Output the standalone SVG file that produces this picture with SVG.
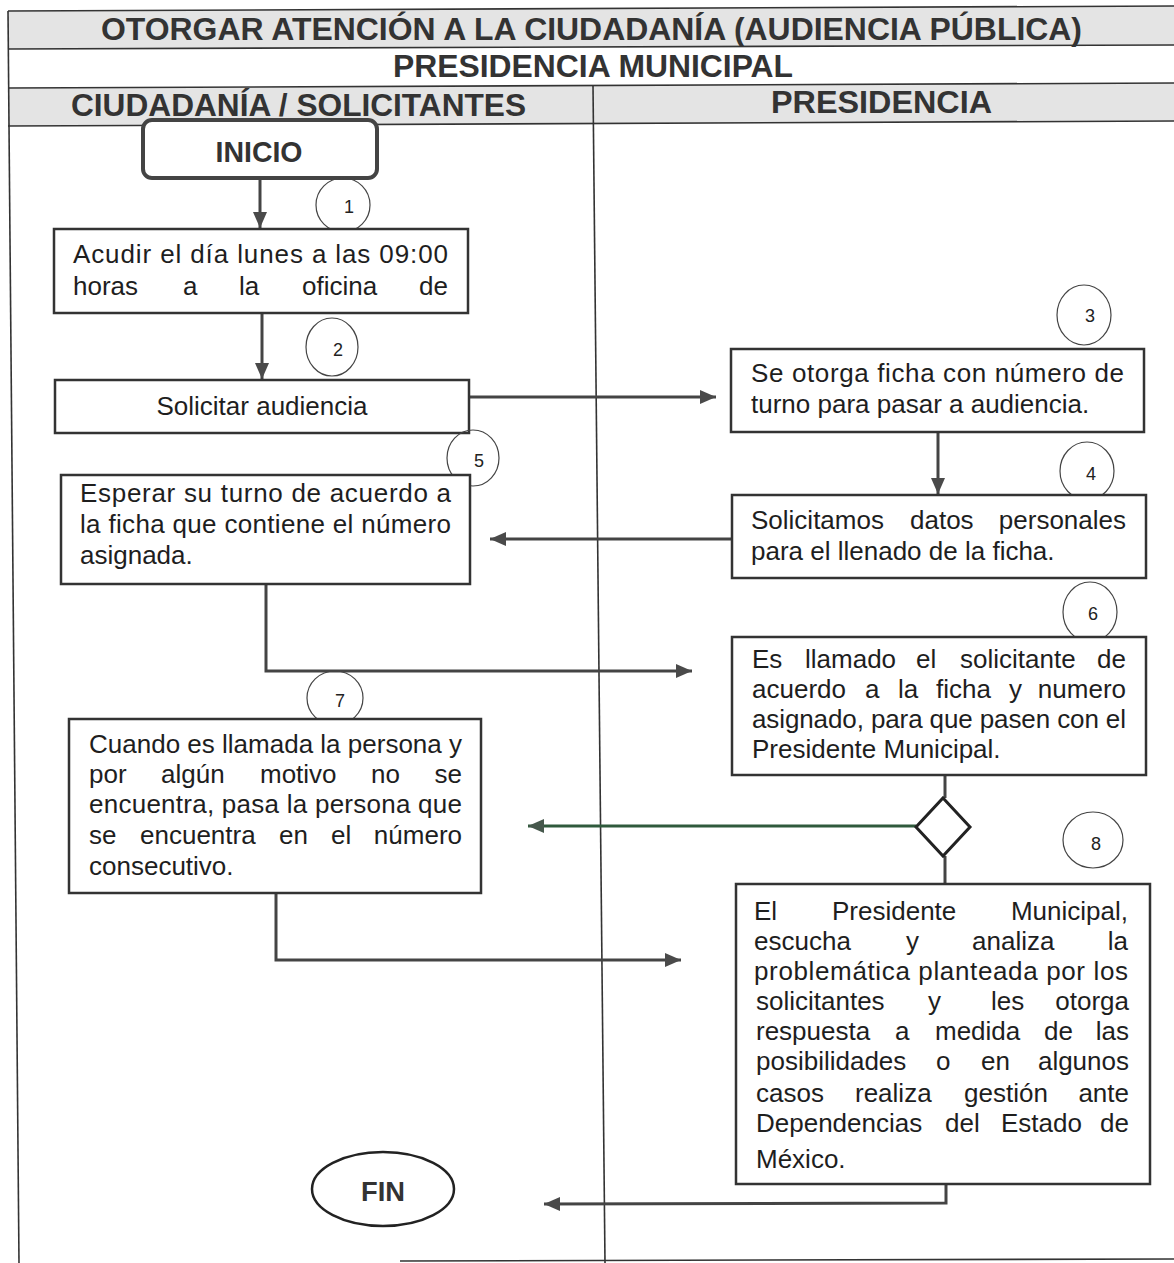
<svg xmlns="http://www.w3.org/2000/svg" width="1174" height="1263" viewBox="0 0 1174 1263">
<style>
.hdr{font-family:"Liberation Sans",Arial,sans-serif;font-weight:bold;fill:#333}
.t{font-family:"Liberation Sans",Arial,sans-serif;font-size:26px;fill:#1e1e1e}
.n{font-family:"Liberation Sans",Arial,sans-serif;font-size:18px;fill:#222;text-anchor:middle}
.box{fill:#fff;stroke:#333;stroke-width:2.5}
.num{fill:none;stroke:#444;stroke-width:1.2}
.grid{stroke:#333;stroke-width:1.6;fill:none}
.con{fill:none;stroke:#444;stroke-width:3}
.e{text-anchor:end}
</style>
<defs>
<marker id="ah" markerUnits="userSpaceOnUse" markerWidth="18" markerHeight="16" refX="16" refY="7" orient="auto">
<path d="M0,0 L16,7 L0,14 z" fill="#4a4a4a"/>
</marker>
<marker id="ahg" markerUnits="userSpaceOnUse" markerWidth="18" markerHeight="16" refX="16" refY="7" orient="auto">
<path d="M0,0 L16,7 L0,14 z" fill="#46584c"/>
</marker>
</defs>
<rect width="1174" height="1263" fill="#fff"/>
<g id="table">
<polygon points="8,11 1174,6 1174,45 8,49" fill="#e4e4e4"/>
<polygon points="8,88 1174,83 1174,121 8,126" fill="#e4e4e4"/>
<line class="grid" x1="8" y1="11" x2="1174" y2="6"/>
<line class="grid" x1="8" y1="49" x2="1174" y2="45"/>
<line class="grid" x1="8" y1="88" x2="1174" y2="83"/>
<line class="grid" x1="8" y1="126" x2="1174" y2="121"/>
<line class="grid" x1="8" y1="11" x2="19" y2="1263"/>
<line class="grid" x1="593" y1="86" x2="605" y2="1263"/>
<line class="grid" x1="400" y1="1261" x2="1174" y2="1259"/>
<text class="hdr" x="101" y="40" font-size="32" textLength="981" lengthAdjust="spacingAndGlyphs">OTORGAR ATENCIÓN A LA CIUDADANÍA (AUDIENCIA PÚBLICA)</text>
<text class="hdr" x="393" y="77" font-size="31" textLength="400" lengthAdjust="spacingAndGlyphs">PRESIDENCIA MUNICIPAL</text>
<text class="hdr" x="71" y="116" font-size="31" textLength="455" lengthAdjust="spacingAndGlyphs">CIUDADANÍA / SOLICITANTES</text>
<text class="hdr" x="771" y="113" font-size="31" textLength="221" lengthAdjust="spacingAndGlyphs">PRESIDENCIA</text>
</g>
<g id="connectors">
<line class="con" x1="260" y1="178" x2="260" y2="228" marker-end="url(#ah)"/>
<line class="con" x1="262" y1="313" x2="262" y2="379" marker-end="url(#ah)"/>
<line class="con" x1="469" y1="397" x2="716" y2="397" marker-end="url(#ah)"/>
<line class="con" x1="938" y1="432" x2="938" y2="494" marker-end="url(#ah)"/>
<line class="con" x1="732" y1="539" x2="490" y2="539" marker-end="url(#ah)"/>
<polyline class="con" points="266,584 266,671 692,671" marker-end="url(#ah)"/>
<line class="con" x1="945" y1="775" x2="945" y2="798"/>
<line class="con" x1="945" y1="856" x2="945" y2="884"/>
<line x1="916" y1="826" x2="528" y2="826" stroke="#2f5a3c" stroke-width="3" marker-end="url(#ahg)"/>
<polyline class="con" points="276,893 276,960 681,960" marker-end="url(#ah)"/>
<polyline class="con" points="946,1184 946,1203 544,1204" marker-end="url(#ah)"/>
</g>
<g id="inicio">
<rect x="143" y="120" width="234" height="58" rx="9" fill="#fff" stroke="#444" stroke-width="4"/>
<text class="hdr" x="259" y="162" font-size="30" text-anchor="middle" textLength="87" lengthAdjust="spacingAndGlyphs">INICIO</text>
</g>
<g id="n1">
<ellipse class="num" cx="343" cy="205" rx="27" ry="27"/>
<text class="n" x="349" y="213">1</text>
<rect class="box" x="54" y="229" width="414" height="84"/>
<text class="t" x="73" y="263" textLength="375" lengthAdjust="spacing">Acudir el día lunes a las 09:00</text>
<text class="t" y="295"><tspan x="73">horas</tspan><tspan x="183">a</tspan><tspan x="239">la</tspan><tspan x="302">oficina</tspan></text>
<text class="t e" x="448" y="295">de</text>
</g>
<g id="n2">
<ellipse class="num" cx="332" cy="347" rx="26" ry="29"/>
<text class="n" x="338" y="356">2</text>
<rect class="box" x="55" y="380" width="414" height="53"/>
<text class="t" x="262" y="415" text-anchor="middle">Solicitar audiencia</text>
</g>
<g id="n3">
<ellipse class="num" cx="1084" cy="315" rx="27" ry="30"/>
<text class="n" x="1090" y="322">3</text>
<rect class="box" x="731" y="349" width="413" height="83"/>
<text class="t" x="751" y="382" textLength="373" lengthAdjust="spacing">Se otorga ficha con número de</text>
<text class="t" x="751" y="413">turno para pasar a audiencia.</text>
</g>
<g id="n4">
<ellipse class="num" cx="1087" cy="471" rx="27" ry="29"/>
<text class="n" x="1091" y="480">4</text>
<rect class="box" x="732" y="495" width="414" height="83"/>
<text class="t" y="529"><tspan x="751">Solicitamos</tspan><tspan x="910">datos</tspan></text>
<text class="t e" x="1126" y="529">personales</text>
<text class="t" x="751" y="560">para el llenado de la ficha.</text>
</g>
<g id="n5">
<ellipse class="num" cx="473" cy="458" rx="26" ry="28"/>
<text class="n" x="479" y="467">5</text>
<rect class="box" x="61" y="475" width="409" height="109"/>
<text class="t" x="80" y="502" textLength="371" lengthAdjust="spacing">Esperar su turno de acuerdo a</text>
<text class="t" x="80" y="533" textLength="371" lengthAdjust="spacing">la ficha que contiene el número</text>
<text class="t" x="80" y="564">asignada.</text>
</g>
<g id="n6">
<ellipse class="num" cx="1090" cy="612" rx="27" ry="30"/>
<text class="n" x="1093" y="620">6</text>
<rect class="box" x="732" y="637" width="414" height="138"/>
<text class="t" y="668"><tspan x="752">Es</tspan><tspan x="805">llamado</tspan><tspan x="916">el</tspan><tspan x="960">solicitante</tspan></text>
<text class="t e" x="1126" y="668">de</text>
<text class="t" y="698"><tspan x="752">acuerdo</tspan><tspan x="865">a</tspan><tspan x="898">la</tspan><tspan x="936">ficha</tspan><tspan x="1009">y</tspan></text>
<text class="t e" x="1126" y="698">numero</text>
<text class="t" x="752" y="728" textLength="374" lengthAdjust="spacing">asignado, para que pasen con el</text>
<text class="t" x="752" y="758">Presidente Municipal.</text>
</g>
<g id="decision">
<polygon points="943,798 970,827 943,856 916,827" fill="#fff" stroke="#222" stroke-width="3"/>
</g>
<g id="n7">
<ellipse class="num" cx="335" cy="698" rx="28" ry="27"/>
<text class="n" x="340" y="707">7</text>
<rect class="box" x="69" y="719" width="412" height="174"/>
<text class="t" x="89" y="753" textLength="373" lengthAdjust="spacing">Cuando es llamada la persona y</text>
<text class="t" y="783"><tspan x="89">por</tspan><tspan x="161">algún</tspan><tspan x="260">motivo</tspan><tspan x="371">no</tspan></text>
<text class="t e" x="462" y="783">se</text>
<text class="t" x="89" y="813" textLength="373" lengthAdjust="spacing">encuentra, pasa la persona que</text>
<text class="t" y="844"><tspan x="89">se</tspan><tspan x="140">encuentra</tspan><tspan x="279">en</tspan><tspan x="331">el</tspan></text>
<text class="t e" x="462" y="844">número</text>
<text class="t" x="89" y="875">consecutivo.</text>
</g>
<g id="n8">
<ellipse class="num" cx="1093" cy="840" rx="30" ry="28"/>
<text class="n" x="1096" y="850">8</text>
<rect class="box" x="736" y="884" width="414" height="300"/>
<text class="t" y="920"><tspan x="754">El</tspan><tspan x="832">Presidente</tspan></text>
<text class="t e" x="1128" y="920">Municipal,</text>
<text class="t" y="950"><tspan x="754">escucha</tspan><tspan x="906">y</tspan><tspan x="972">analiza</tspan></text>
<text class="t e" x="1128" y="950">la</text>
<text class="t" x="754" y="980" textLength="374" lengthAdjust="spacing">problemática planteada por los</text>
<text class="t" y="1010"><tspan x="756">solicitantes</tspan><tspan x="928">y</tspan><tspan x="991">les</tspan></text>
<text class="t e" x="1129" y="1010">otorga</text>
<text class="t" y="1040"><tspan x="756">respuesta</tspan><tspan x="895">a</tspan><tspan x="935">medida</tspan><tspan x="1044">de</tspan></text>
<text class="t e" x="1129" y="1040">las</text>
<text class="t" y="1070"><tspan x="756">posibilidades</tspan><tspan x="936">o</tspan><tspan x="981">en</tspan></text>
<text class="t e" x="1129" y="1070">algunos</text>
<text class="t" y="1102"><tspan x="756">casos</tspan><tspan x="855">realiza</tspan><tspan x="964">gestión</tspan></text>
<text class="t e" x="1129" y="1102">ante</text>
<text class="t" y="1132"><tspan x="756">Dependencias</tspan><tspan x="945">del</tspan><tspan x="1001">Estado</tspan></text>
<text class="t e" x="1129" y="1132">de</text>
<text class="t" x="756" y="1168">México.</text>
</g>
<g id="fin">
<ellipse cx="383" cy="1189" rx="71" ry="37" fill="#fff" stroke="#222" stroke-width="2.5"/>
<text class="hdr" x="383" y="1201" font-size="28" text-anchor="middle" textLength="44" lengthAdjust="spacingAndGlyphs">FIN</text>
</g>
</svg>
